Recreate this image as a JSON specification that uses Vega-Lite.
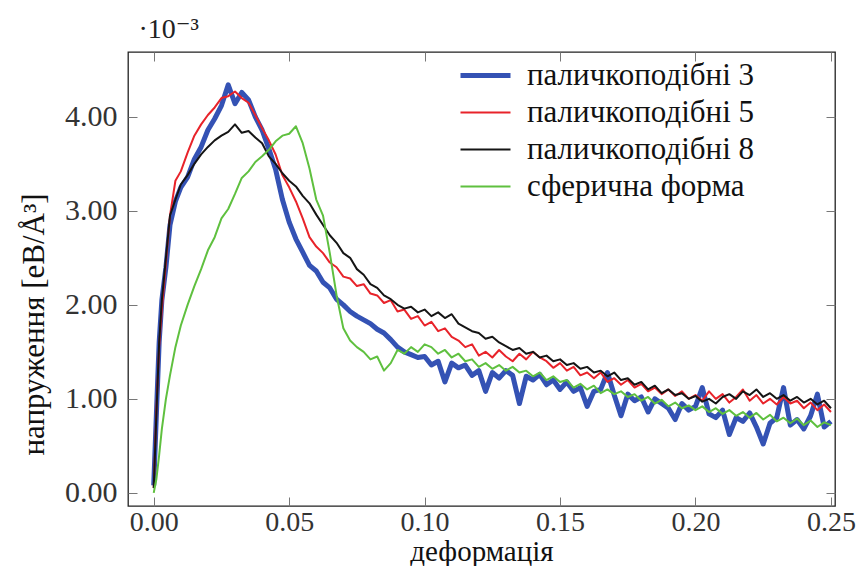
{
"$schema": "https://vega.github.io/schema/vega-lite/v6.json",
"width": 707, "height": 454,
"autosize": {"type": "none"},
"padding": {"left": 128, "top": 52, "right": 25, "bottom": 60},
"background": "white",
"datasets": {"curves": [
{"series":"паличкоподібні 3","x":0,"y":0.08},{"series":"паличкоподібні 3","x":0.001,"y":0.85},{"series":"паличкоподібні 3","x":0.002,"y":1.6},{"series":"паличкоподібні 3","x":0.003,"y":2.05},{"series":"паличкоподібні 3","x":0.0045,"y":2.4},{"series":"паличкоподібні 3","x":0.006,"y":2.85},{"series":"паличкоподібні 3","x":0.008,"y":3.1},{"series":"паличкоподібні 3","x":0.01,"y":3.25},{"series":"паличкоподібні 3","x":0.0125,"y":3.36},{"series":"паличкоподібні 3","x":0.015,"y":3.55},{"series":"паличкоподібні 3","x":0.0175,"y":3.68},{"series":"паличкоподібні 3","x":0.02,"y":3.86},{"series":"паличкоподібні 3","x":0.0225,"y":3.98},{"series":"паличкоподібні 3","x":0.025,"y":4.12},{"series":"паличкоподібні 3","x":0.0275,"y":4.34},{"series":"паличкоподібні 3","x":0.03,"y":4.14},{"series":"паличкоподібні 3","x":0.0325,"y":4.26},{"series":"паличкоподібні 3","x":0.035,"y":4.18},{"series":"паличкоподібні 3","x":0.0375,"y":4.0},{"series":"паличкоподібні 3","x":0.04,"y":3.86},{"series":"паличкоподібні 3","x":0.0425,"y":3.66},{"series":"паличкоподібні 3","x":0.045,"y":3.44},{"series":"паличкоподібні 3","x":0.0475,"y":3.12},{"series":"паличкоподібні 3","x":0.05,"y":2.88},{"series":"паличкоподібні 3","x":0.0525,"y":2.7},{"series":"паличкоподібні 3","x":0.055,"y":2.56},{"series":"паличкоподібні 3","x":0.0575,"y":2.42},{"series":"паличкоподібні 3","x":0.06,"y":2.36},{"series":"паличкоподібні 3","x":0.0625,"y":2.24},{"series":"паличкоподібні 3","x":0.065,"y":2.18},{"series":"паличкоподібні 3","x":0.0675,"y":2.06},{"series":"паличкоподібні 3","x":0.07,"y":2.0},{"series":"паличкоподібні 3","x":0.0725,"y":1.93},{"series":"паличкоподібні 3","x":0.075,"y":1.88},{"series":"паличкоподібні 3","x":0.0775,"y":1.84},{"series":"паличкоподібні 3","x":0.08,"y":1.8},{"series":"паличкоподібні 3","x":0.0825,"y":1.74},{"series":"паличкоподібні 3","x":0.085,"y":1.7},{"series":"паличкоподібні 3","x":0.0875,"y":1.63},{"series":"паличкоподібні 3","x":0.09,"y":1.55},{"series":"паличкоподібні 3","x":0.0925,"y":1.5},{"series":"паличкоподібні 3","x":0.095,"y":1.47},{"series":"паличкоподібні 3","x":0.0975,"y":1.44},
{"series":"паличкоподібні 3","x":0.1,"y":1.45},{"series":"паличкоподібні 3","x":0.1025,"y":1.36},{"series":"паличкоподібні 3","x":0.105,"y":1.4},{"series":"паличкоподібні 3","x":0.1075,"y":1.18},{"series":"паличкоподібні 3","x":0.11,"y":1.38},{"series":"паличкоподібні 3","x":0.1125,"y":1.33},{"series":"паличкоподібні 3","x":0.115,"y":1.36},{"series":"паличкоподібні 3","x":0.1175,"y":1.25},{"series":"паличкоподібні 3","x":0.12,"y":1.3},{"series":"паличкоподібні 3","x":0.1225,"y":1.08},{"series":"паличкоподібні 3","x":0.125,"y":1.28},{"series":"паличкоподібні 3","x":0.1275,"y":1.22},{"series":"паличкоподібні 3","x":0.13,"y":1.3},{"series":"паличкоподібні 3","x":0.1325,"y":1.25},{"series":"паличкоподібні 3","x":0.135,"y":0.95},{"series":"паличкоподібні 3","x":0.1375,"y":1.24},{"series":"паличкоподібні 3","x":0.14,"y":1.2},{"series":"паличкоподібні 3","x":0.1425,"y":1.26},{"series":"паличкоподібні 3","x":0.145,"y":1.15},{"series":"паличкоподібні 3","x":0.1475,"y":1.2},{"series":"паличкоподібні 3","x":0.15,"y":1.1},{"series":"паличкоподібні 3","x":0.1525,"y":1.18},{"series":"паличкоподібні 3","x":0.155,"y":1.08},{"series":"паличкоподібні 3","x":0.1575,"y":1.12},{"series":"паличкоподібні 3","x":0.16,"y":0.92},{"series":"паличкоподібні 3","x":0.1625,"y":1.08},{"series":"паличкоподібні 3","x":0.165,"y":1.1},{"series":"паличкоподібні 3","x":0.1675,"y":1.28},{"series":"паличкоподібні 3","x":0.17,"y":1.04},{"series":"паличкоподібні 3","x":0.1725,"y":0.82},{"series":"паличкоподібні 3","x":0.175,"y":1.05},{"series":"паличкоподібні 3","x":0.1775,"y":0.98},{"series":"паличкоподібні 3","x":0.18,"y":1.02},{"series":"паличкоподібні 3","x":0.1825,"y":0.86},{"series":"паличкоподібні 3","x":0.185,"y":1.0},{"series":"паличкоподібні 3","x":0.1875,"y":0.95},{"series":"паличкоподібні 3","x":0.19,"y":0.9},{"series":"паличкоподібні 3","x":0.1925,"y":0.78},{"series":"паличкоподібні 3","x":0.195,"y":0.95},{"series":"паличкоподібні 3","x":0.1975,"y":0.88},{"series":"паличкоподібні 3","x":0.2,"y":0.92},{"series":"паличкоподібні 3","x":0.2025,"y":1.12},{"series":"паличкоподібні 3","x":0.205,"y":0.84},{"series":"паличкоподібні 3","x":0.2075,"y":0.8},{"series":"паличкоподібні 3","x":0.21,"y":0.88},{"series":"паличкоподібні 3","x":0.2125,"y":0.62},{"series":"паличкоподібні 3","x":0.215,"y":0.8},{"series":"паличкоподібні 3","x":0.2175,"y":0.76},{"series":"паличкоподібні 3","x":0.22,"y":0.85},{"series":"паличкоподібні 3","x":0.2225,"y":0.7},{"series":"паличкоподібні 3","x":0.225,"y":0.52},{"series":"паличкоподібні 3","x":0.2275,"y":0.74},{"series":"паличкоподібні 3","x":0.23,"y":0.8},{"series":"паличкоподібні 3","x":0.2325,"y":1.12},{"series":"паличкоподібні 3","x":0.235,"y":0.72},{"series":"паличкоподібні 3","x":0.2375,"y":0.78},{"series":"паличкоподібні 3","x":0.24,"y":0.68},{"series":"паличкоподібні 3","x":0.2425,"y":0.82},{"series":"паличкоподібні 3","x":0.245,"y":1.05},{"series":"паличкоподібні 3","x":0.2475,"y":0.7},{"series":"паличкоподібні 3","x":0.25,"y":0.76},
{"series":"паличкоподібні 5","x":0,"y":0.05},{"series":"паличкоподібні 5","x":0.001,"y":0.9},{"series":"паличкоподібні 5","x":0.002,"y":1.55},{"series":"паличкоподібні 5","x":0.003,"y":1.95},{"series":"паличкоподібні 5","x":0.0045,"y":2.45},{"series":"паличкоподібні 5","x":0.006,"y":2.95},{"series":"паличкоподібні 5","x":0.008,"y":3.32},{"series":"паличкоподібні 5","x":0.01,"y":3.42},{"series":"паличкоподібні 5","x":0.0125,"y":3.62},{"series":"паличкоподібні 5","x":0.015,"y":3.8},{"series":"паличкоподібні 5","x":0.0175,"y":3.92},{"series":"паличкоподібні 5","x":0.02,"y":4.02},{"series":"паличкоподібні 5","x":0.0225,"y":4.1},{"series":"паличкоподібні 5","x":0.025,"y":4.2},{"series":"паличкоподібні 5","x":0.0275,"y":4.22},{"series":"паличкоподібні 5","x":0.03,"y":4.27},{"series":"паличкоподібні 5","x":0.0325,"y":4.2},{"series":"паличкоподібні 5","x":0.035,"y":4.15},{"series":"паличкоподібні 5","x":0.0375,"y":4.02},{"series":"паличкоподібні 5","x":0.04,"y":3.88},{"series":"паличкоподібні 5","x":0.0425,"y":3.75},{"series":"паличкоподібні 5","x":0.045,"y":3.6},{"series":"паличкоподібні 5","x":0.0475,"y":3.38},{"series":"паличкоподібні 5","x":0.05,"y":3.25},{"series":"паличкоподібні 5","x":0.0525,"y":3.1},{"series":"паличкоподібні 5","x":0.055,"y":2.92},{"series":"паличкоподібні 5","x":0.0575,"y":2.72},{"series":"паличкоподібні 5","x":0.06,"y":2.62},{"series":"паличкоподібні 5","x":0.0625,"y":2.55},{"series":"паличкоподібні 5","x":0.065,"y":2.45},{"series":"паличкоподібні 5","x":0.0675,"y":2.4},{"series":"паличкоподібні 5","x":0.07,"y":2.3},{"series":"паличкоподібні 5","x":0.0725,"y":2.28},{"series":"паличкоподібні 5","x":0.075,"y":2.2},{"series":"паличкоподібні 5","x":0.0775,"y":2.22},{"series":"паличкоподібні 5","x":0.08,"y":2.12},{"series":"паличкоподібні 5","x":0.0825,"y":2.1},{"series":"паличкоподібні 5","x":0.085,"y":2.02},{"series":"паличкоподібні 5","x":0.0875,"y":2.05},{"series":"паличкоподібні 5","x":0.09,"y":1.93},{"series":"паличкоподібні 5","x":0.0925,"y":1.95},{"series":"паличкоподібні 5","x":0.095,"y":1.85},{"series":"паличкоподібні 5","x":0.0975,"y":1.88},
{"series":"паличкоподібні 5","x":0.1,"y":1.78},{"series":"паличкоподібні 5","x":0.1025,"y":1.82},{"series":"паличкоподібні 5","x":0.105,"y":1.72},{"series":"паличкоподібні 5","x":0.1075,"y":1.75},{"series":"паличкоподібні 5","x":0.11,"y":1.66},{"series":"паличкоподібні 5","x":0.1125,"y":1.62},{"series":"паличкоподібні 5","x":0.115,"y":1.55},{"series":"паличкоподібні 5","x":0.1175,"y":1.58},{"series":"паличкоподібні 5","x":0.12,"y":1.46},{"series":"паличкоподібні 5","x":0.1225,"y":1.5},{"series":"паличкоподібні 5","x":0.125,"y":1.44},{"series":"паличкоподібні 5","x":0.1275,"y":1.52},{"series":"паличкоподібні 5","x":0.13,"y":1.45},{"series":"паличкоподібні 5","x":0.1325,"y":1.4},{"series":"паличкоподібні 5","x":0.135,"y":1.48},{"series":"паличкоподібні 5","x":0.1375,"y":1.42},{"series":"паличкоподібні 5","x":0.14,"y":1.5},{"series":"паличкоподібні 5","x":0.1425,"y":1.44},{"series":"паличкоподібні 5","x":0.145,"y":1.4},{"series":"паличкоподібні 5","x":0.1475,"y":1.33},{"series":"паличкоподібні 5","x":0.15,"y":1.38},{"series":"паличкоподібні 5","x":0.1525,"y":1.3},{"series":"паличкоподібні 5","x":0.155,"y":1.34},{"series":"паличкоподібні 5","x":0.1575,"y":1.25},{"series":"паличкоподібні 5","x":0.16,"y":1.28},{"series":"паличкоподібні 5","x":0.1625,"y":1.22},{"series":"паличкоподібні 5","x":0.165,"y":1.28},{"series":"паличкоподібні 5","x":0.1675,"y":1.18},{"series":"паличкоподібні 5","x":0.17,"y":1.22},{"series":"паличкоподібні 5","x":0.1725,"y":1.15},{"series":"паличкоподібні 5","x":0.175,"y":1.2},{"series":"паличкоподібні 5","x":0.1775,"y":1.12},{"series":"паличкоподібні 5","x":0.18,"y":1.16},{"series":"паличкоподібні 5","x":0.1825,"y":1.08},{"series":"паличкоподібні 5","x":0.185,"y":1.12},{"series":"паличкоподібні 5","x":0.1875,"y":1.05},{"series":"паличкоподібні 5","x":0.19,"y":1.1},{"series":"паличкоподібні 5","x":0.1925,"y":1.03},{"series":"паличкоподібні 5","x":0.195,"y":1.08},{"series":"паличкоподібні 5","x":0.1975,"y":1.0},{"series":"паличкоподібні 5","x":0.2,"y":1.04},{"series":"паличкоподібні 5","x":0.2025,"y":0.98},{"series":"паличкоподібні 5","x":0.205,"y":1.08},{"series":"паличкоподібні 5","x":0.2075,"y":1.0},{"series":"паличкоподібні 5","x":0.21,"y":1.05},{"series":"паличкоподібні 5","x":0.2125,"y":0.96},{"series":"паличкоподібні 5","x":0.215,"y":1.02},{"series":"паличкоподібні 5","x":0.2175,"y":1.1},{"series":"паличкоподібні 5","x":0.22,"y":0.98},{"series":"паличкоподібні 5","x":0.2225,"y":1.04},{"series":"паличкоподібні 5","x":0.225,"y":0.95},{"series":"паличкоподібні 5","x":0.2275,"y":1.0},{"series":"паличкоподібні 5","x":0.23,"y":0.94},{"series":"паличкоподібні 5","x":0.2325,"y":1.02},{"series":"паличкоподібні 5","x":0.235,"y":0.95},{"series":"паличкоподібні 5","x":0.2375,"y":0.98},{"series":"паличкоподібні 5","x":0.24,"y":0.9},{"series":"паличкоподібні 5","x":0.2425,"y":0.96},{"series":"паличкоподібні 5","x":0.245,"y":0.88},{"series":"паличкоподібні 5","x":0.2475,"y":0.94},{"series":"паличкоподібні 5","x":0.25,"y":0.86},
{"series":"паличкоподібні 8","x":0,"y":0.05},{"series":"паличкоподібні 8","x":0.001,"y":0.85},{"series":"паличкоподібні 8","x":0.002,"y":1.6},{"series":"паличкоподібні 8","x":0.003,"y":2.05},{"series":"паличкоподібні 8","x":0.0045,"y":2.5},{"series":"паличкоподібні 8","x":0.006,"y":2.95},{"series":"паличкоподібні 8","x":0.008,"y":3.12},{"series":"паличкоподібні 8","x":0.01,"y":3.28},{"series":"паличкоподібні 8","x":0.0125,"y":3.38},{"series":"паличкоподібні 8","x":0.015,"y":3.5},{"series":"паличкоподібні 8","x":0.0175,"y":3.6},{"series":"паличкоподібні 8","x":0.02,"y":3.68},{"series":"паличкоподібні 8","x":0.0225,"y":3.75},{"series":"паличкоподібні 8","x":0.025,"y":3.8},{"series":"паличкоподібні 8","x":0.0275,"y":3.84},{"series":"паличкоподібні 8","x":0.03,"y":3.92},{"series":"паличкоподібні 8","x":0.0325,"y":3.83},{"series":"паличкоподібні 8","x":0.035,"y":3.85},{"series":"паличкоподібні 8","x":0.0375,"y":3.78},{"series":"паличкоподібні 8","x":0.04,"y":3.72},{"series":"паличкоподібні 8","x":0.0425,"y":3.58},{"series":"паличкоподібні 8","x":0.045,"y":3.5},{"series":"паличкоподібні 8","x":0.0475,"y":3.4},{"series":"паличкоподібні 8","x":0.05,"y":3.32},{"series":"паличкоподібні 8","x":0.0525,"y":3.26},{"series":"паличкоподібні 8","x":0.055,"y":3.16},{"series":"паличкоподібні 8","x":0.0575,"y":3.08},{"series":"паличкоподібні 8","x":0.06,"y":2.96},{"series":"паличкоподібні 8","x":0.0625,"y":2.85},{"series":"паличкоподібні 8","x":0.065,"y":2.74},{"series":"паличкоподібні 8","x":0.0675,"y":2.66},{"series":"паличкоподібні 8","x":0.07,"y":2.55},{"series":"паличкоподібні 8","x":0.0725,"y":2.5},{"series":"паличкоподібні 8","x":0.075,"y":2.38},{"series":"паличкоподібні 8","x":0.0775,"y":2.32},{"series":"паличкоподібні 8","x":0.08,"y":2.22},{"series":"паличкоподібні 8","x":0.0825,"y":2.18},{"series":"паличкоподібні 8","x":0.085,"y":2.1},{"series":"паличкоподібні 8","x":0.0875,"y":2.06},{"series":"паличкоподібні 8","x":0.09,"y":2.0},{"series":"паличкоподібні 8","x":0.0925,"y":1.96},{"series":"паличкоподібні 8","x":0.095,"y":1.98},{"series":"паличкоподібні 8","x":0.0975,"y":1.92},
{"series":"паличкоподібні 8","x":0.1,"y":1.95},{"series":"паличкоподібні 8","x":0.1025,"y":1.88},{"series":"паличкоподібні 8","x":0.105,"y":1.92},{"series":"паличкоподібні 8","x":0.1075,"y":1.86},{"series":"паличкоподібні 8","x":0.11,"y":1.9},{"series":"паличкоподібні 8","x":0.1125,"y":1.8},{"series":"паличкоподібні 8","x":0.115,"y":1.76},{"series":"паличкоподібні 8","x":0.1175,"y":1.72},{"series":"паличкоподібні 8","x":0.12,"y":1.7},{"series":"паличкоподібні 8","x":0.1225,"y":1.64},{"series":"паличкоподібні 8","x":0.125,"y":1.66},{"series":"паличкоподібні 8","x":0.1275,"y":1.6},{"series":"паличкоподібні 8","x":0.13,"y":1.56},{"series":"паличкоподібні 8","x":0.1325,"y":1.52},{"series":"паличкоподібні 8","x":0.135,"y":1.54},{"series":"паличкоподібні 8","x":0.1375,"y":1.48},{"series":"паличкоподібні 8","x":0.14,"y":1.5},{"series":"паличкоподібні 8","x":0.1425,"y":1.44},{"series":"паличкоподібні 8","x":0.145,"y":1.46},{"series":"паличкоподібні 8","x":0.1475,"y":1.4},{"series":"паличкоподібні 8","x":0.15,"y":1.42},{"series":"паличкоподібні 8","x":0.1525,"y":1.36},{"series":"паличкоподібні 8","x":0.155,"y":1.38},{"series":"паличкоподібні 8","x":0.1575,"y":1.32},{"series":"паличкоподібні 8","x":0.16,"y":1.34},{"series":"паличкоподібні 8","x":0.1625,"y":1.28},{"series":"паличкоподібні 8","x":0.165,"y":1.3},{"series":"паличкоподібні 8","x":0.1675,"y":1.24},{"series":"паличкоподібні 8","x":0.17,"y":1.28},{"series":"паличкоподібні 8","x":0.1725,"y":1.2},{"series":"паличкоподібні 8","x":0.175,"y":1.22},{"series":"паличкоподібні 8","x":0.1775,"y":1.15},{"series":"паличкоподібні 8","x":0.18,"y":1.18},{"series":"паличкоподібні 8","x":0.1825,"y":1.1},{"series":"паличкоподібні 8","x":0.185,"y":1.14},{"series":"паличкоподібні 8","x":0.1875,"y":1.06},{"series":"паличкоподібні 8","x":0.19,"y":1.1},{"series":"паличкоподібні 8","x":0.1925,"y":1.04},{"series":"паличкоподібні 8","x":0.195,"y":1.06},{"series":"паличкоподібні 8","x":0.1975,"y":1.0},{"series":"паличкоподібні 8","x":0.2,"y":1.03},{"series":"паличкоподібні 8","x":0.2025,"y":0.97},{"series":"паличкоподібні 8","x":0.205,"y":1.0},{"series":"паличкоподібні 8","x":0.2075,"y":0.95},{"series":"паличкоподібні 8","x":0.21,"y":1.02},{"series":"паличкоподібні 8","x":0.2125,"y":1.05},{"series":"паличкоподібні 8","x":0.215,"y":1.0},{"series":"паличкоподібні 8","x":0.2175,"y":1.08},{"series":"паличкоподібні 8","x":0.22,"y":1.04},{"series":"паличкоподібні 8","x":0.2225,"y":1.1},{"series":"паличкоподібні 8","x":0.225,"y":1.02},{"series":"паличкоподібні 8","x":0.2275,"y":1.06},{"series":"паличкоподібні 8","x":0.23,"y":1.0},{"series":"паличкоподібні 8","x":0.2325,"y":1.04},{"series":"паличкоподібні 8","x":0.235,"y":0.98},{"series":"паличкоподібні 8","x":0.2375,"y":1.02},{"series":"паличкоподібні 8","x":0.24,"y":0.96},{"series":"паличкоподібні 8","x":0.2425,"y":1.0},{"series":"паличкоподібні 8","x":0.245,"y":0.94},{"series":"паличкоподібні 8","x":0.2475,"y":0.98},{"series":"паличкоподібні 8","x":0.25,"y":0.9},
{"series":"сферична форма","x":0,"y":0.0},{"series":"сферична форма","x":0.001,"y":0.15},{"series":"сферична форма","x":0.002,"y":0.4},{"series":"сферична форма","x":0.003,"y":0.68},{"series":"сферична форма","x":0.0045,"y":1.0},{"series":"сферична форма","x":0.006,"y":1.25},{"series":"сферична форма","x":0.008,"y":1.55},{"series":"сферична форма","x":0.01,"y":1.78},{"series":"сферична форма","x":0.0125,"y":2.0},{"series":"сферична форма","x":0.015,"y":2.2},{"series":"сферична форма","x":0.0175,"y":2.38},{"series":"сферична форма","x":0.02,"y":2.58},{"series":"сферична форма","x":0.0225,"y":2.72},{"series":"сферична форма","x":0.025,"y":2.92},{"series":"сферична форма","x":0.0275,"y":3.02},{"series":"сферична форма","x":0.03,"y":3.18},{"series":"сферична форма","x":0.0325,"y":3.35},{"series":"сферична форма","x":0.035,"y":3.42},{"series":"сферична форма","x":0.0375,"y":3.52},{"series":"сферична форма","x":0.04,"y":3.58},{"series":"сферична форма","x":0.0425,"y":3.65},{"series":"сферична форма","x":0.045,"y":3.74},{"series":"сферична форма","x":0.0475,"y":3.8},{"series":"сферична форма","x":0.05,"y":3.82},{"series":"сферична форма","x":0.0525,"y":3.9},{"series":"сферична форма","x":0.055,"y":3.72},{"series":"сферична форма","x":0.0575,"y":3.45},{"series":"сферична форма","x":0.06,"y":3.12},{"series":"сферична форма","x":0.0625,"y":2.95},{"series":"сферична форма","x":0.065,"y":2.55},{"series":"сферична форма","x":0.0675,"y":2.1},{"series":"сферична форма","x":0.07,"y":1.75},{"series":"сферична форма","x":0.0725,"y":1.62},{"series":"сферична форма","x":0.075,"y":1.55},{"series":"сферична форма","x":0.0775,"y":1.5},{"series":"сферична форма","x":0.08,"y":1.42},{"series":"сферична форма","x":0.0825,"y":1.45},{"series":"сферична форма","x":0.085,"y":1.3},{"series":"сферична форма","x":0.0875,"y":1.38},{"series":"сферична форма","x":0.09,"y":1.52},{"series":"сферична форма","x":0.0925,"y":1.48},{"series":"сферична форма","x":0.095,"y":1.55},{"series":"сферична форма","x":0.0975,"y":1.5},
{"series":"сферична форма","x":0.1,"y":1.58},{"series":"сферична форма","x":0.1025,"y":1.55},{"series":"сферична форма","x":0.105,"y":1.48},{"series":"сферична форма","x":0.1075,"y":1.52},{"series":"сферична форма","x":0.11,"y":1.44},{"series":"сферична форма","x":0.1125,"y":1.48},{"series":"сферична форма","x":0.115,"y":1.4},{"series":"сферична форма","x":0.1175,"y":1.42},{"series":"сферична форма","x":0.12,"y":1.34},{"series":"сферична форма","x":0.1225,"y":1.38},{"series":"сферична форма","x":0.125,"y":1.32},{"series":"сферична форма","x":0.1275,"y":1.36},{"series":"сферична форма","x":0.13,"y":1.3},{"series":"сферична форма","x":0.1325,"y":1.34},{"series":"сферична форма","x":0.135,"y":1.28},{"series":"сферична форма","x":0.1375,"y":1.3},{"series":"сферична форма","x":0.14,"y":1.24},{"series":"сферична форма","x":0.1425,"y":1.28},{"series":"сферична форма","x":0.145,"y":1.2},{"series":"сферична форма","x":0.1475,"y":1.24},{"series":"сферична форма","x":0.15,"y":1.18},{"series":"сферична форма","x":0.1525,"y":1.2},{"series":"сферична форма","x":0.155,"y":1.12},{"series":"сферична форма","x":0.1575,"y":1.16},{"series":"сферична форма","x":0.16,"y":1.1},{"series":"сферична форма","x":0.1625,"y":1.14},{"series":"сферична форма","x":0.165,"y":1.06},{"series":"сферична форма","x":0.1675,"y":1.1},{"series":"сферична форма","x":0.17,"y":1.05},{"series":"сферична форма","x":0.1725,"y":1.08},{"series":"сферична форма","x":0.175,"y":1.02},{"series":"сферична форма","x":0.1775,"y":1.05},{"series":"сферична форма","x":0.18,"y":0.98},{"series":"сферична форма","x":0.1825,"y":1.02},{"series":"сферична форма","x":0.185,"y":0.95},{"series":"сферична форма","x":0.1875,"y":0.99},{"series":"сферична форма","x":0.19,"y":0.92},{"series":"сферична форма","x":0.1925,"y":0.96},{"series":"сферична форма","x":0.195,"y":0.9},{"series":"сферична форма","x":0.1975,"y":0.93},{"series":"сферична форма","x":0.2,"y":0.88},{"series":"сферична форма","x":0.2025,"y":0.92},{"series":"сферична форма","x":0.205,"y":0.86},{"series":"сферична форма","x":0.2075,"y":0.9},{"series":"сферична форма","x":0.21,"y":0.84},{"series":"сферична форма","x":0.2125,"y":0.88},{"series":"сферична форма","x":0.215,"y":0.82},{"series":"сферична форма","x":0.2175,"y":0.86},{"series":"сферична форма","x":0.22,"y":0.8},{"series":"сферична форма","x":0.2225,"y":0.85},{"series":"сферична форма","x":0.225,"y":0.78},{"series":"сферична форма","x":0.2275,"y":0.83},{"series":"сферична форма","x":0.23,"y":0.76},{"series":"сферична форма","x":0.2325,"y":0.8},{"series":"сферична форма","x":0.235,"y":0.74},{"series":"сферична форма","x":0.2375,"y":0.79},{"series":"сферична форма","x":0.24,"y":0.72},{"series":"сферична форма","x":0.2425,"y":0.77},{"series":"сферична форма","x":0.245,"y":0.7},{"series":"сферична форма","x":0.2475,"y":0.75},{"series":"сферична форма","x":0.25,"y":0.72}
]},
"data": {"name": "curves"},
"layer": [
 {"mark": {"type": "line", "strokeJoin": "round"},
  "encoding": {
   "x": {"field": "x", "type": "quantitative", "scale": {"domain": [-0.0095, 0.2515], "nice": false, "zero": false},
     "axis": {"orient": "bottom", "values": [0, 0.05, 0.1, 0.15, 0.2, 0.25], "format": ".2f", "title": "деформація", "titleY": 54, "titleBaseline": "alphabetic", "titleFontSize": 29, "labelFontSize": 28, "labelPadding": 11}},
   "y": {"field": "y", "type": "quantitative", "scale": {"domain": [-0.14, 4.69], "nice": false, "zero": false},
     "axis": {"orient": "left", "values": [0, 1, 2, 3, 4], "format": ".2f", "title": "напруження [еВ/Å³]", "titleX": -85, "titleY": 272, "titleAngle": -90, "titleAlign": "center", "titleBaseline": "alphabetic", "titleFontSize": 31, "labelPadding": 20}},
   "color": {"field": "series", "type": "nominal",
     "scale": {"domain": ["паличкоподібні 3", "паличкоподібні 5", "паличкоподібні 8", "сферична форма"], "range": ["#3452b4", "#e8232a", "#151515", "#5fc03f"]},
     "legend": {"title": null, "orient": "none", "legendX": 330, "legendY": 5, "symbolType": "stroke", "symbolSize": 2500, "clipHeight": 37, "rowPadding": 0, "labelOffset": 14, "labelLimit": 0, "labelFont": "Liberation Serif, DejaVu Serif, serif", "labelFontSize": 31, "labelColor": "#111", "padding": 0}},
   "strokeWidth": {"field": "series", "type": "nominal",
     "scale": {"type": "ordinal", "domain": ["паличкоподібні 3", "паличкоподібні 5", "паличкоподібні 8", "сферична форма"], "range": [5, 2, 2, 2]},
     "legend": {"title": null, "orient": "none", "legendX": 330, "legendY": 5, "symbolType": "stroke", "symbolSize": 2500, "clipHeight": 37, "rowPadding": 0, "labelOffset": 14, "labelLimit": 0, "labelFont": "Liberation Serif, DejaVu Serif, serif", "labelFontSize": 31, "labelColor": "#111", "padding": 0}}
  }},
 {"mark": {"type": "line", "opacity": 0},
  "encoding": {
   "x": {"field": "x", "type": "quantitative", "axis": {"orient": "top", "values": [0, 0.05, 0.1, 0.15, 0.2, 0.25], "labels": false, "title": "·10⁻³", "titleX": 10, "titleY": -15, "titleAlign": "left", "titleBaseline": "alphabetic", "titleFontSize": 28, "titleColor": "#222"}},
   "y": {"field": "y", "type": "quantitative", "axis": {"orient": "right", "values": [0, 1, 2, 3, 4], "labels": false, "title": null}}
  }}
],
"resolve": {"axis": {"x": "independent", "y": "independent"}},
"config": {
 "view": {"stroke": "#222", "strokeWidth": 1.3},
 "axis": {"domain": false, "grid": false, "tickSize": -9, "tickColor": "#777", "tickWidth": 1, "labelFont": "Liberation Serif, DejaVu Serif, serif", "labelFontSize": 30, "labelColor": "#333", "titleFont": "Liberation Serif, DejaVu Serif, serif", "titleFontSize": 30, "titleFontWeight": "normal", "titleColor": "#111"}
}
}
